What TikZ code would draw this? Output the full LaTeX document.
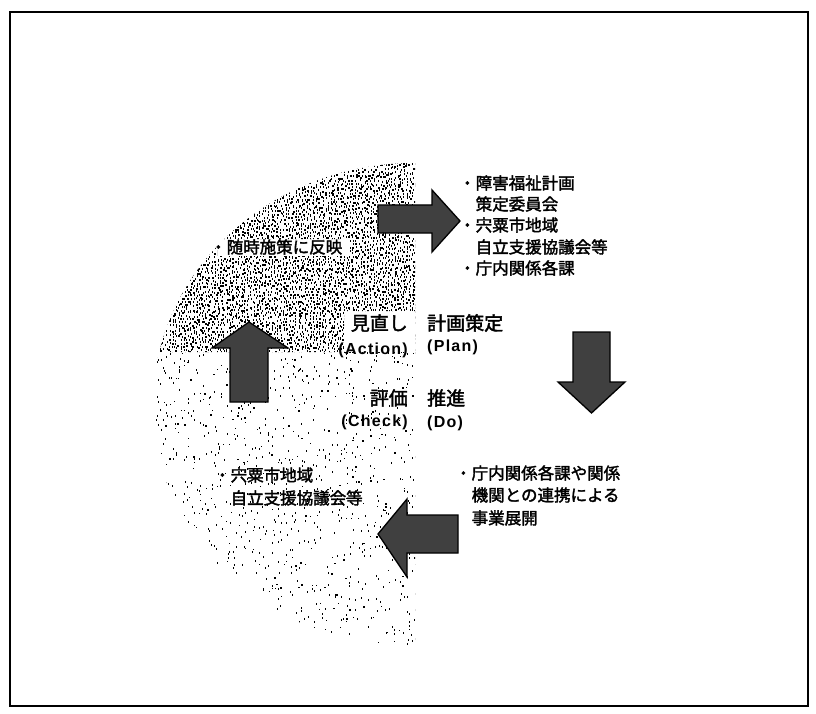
\documentclass[tikz,border=0pt]{standalone}
\usepackage{fontspec}
\setmainfont{Liberation Sans}
\newfontfamily\jp[AutoFakeBold=2]{Noto Sans CJK JP}
\newfontfamily\lat[LetterSpace=8]{Liberation Sans}
\tikzset{
  bigarrow/.style={fill=black!75, draw=black, line width=1.3pt, line join=miter},
  item/.style={anchor=west, inner sep=0pt, font=\jp\bfseries\fontsize{16.5}{20}\selectfont},
  phase/.style={inner sep=0pt, font=\jp\bfseries\fontsize{19}{22}\selectfont},
  phaseen/.style={inner sep=0pt, font=\lat\bfseries\fontsize{16}{20}\selectfont},
  dot/.style={fill=black}
}
\begin{document}
\begin{tikzpicture}[x=1pt,y=-1pt]
\useasboundingbox (0,0) rectangle (816,714);
\fill[white] (0,0) rectangle (816,714);
\draw[line width=1.6pt] (10,12) rectangle (808,706);

\pgfmathsetseed{11}
% dense dotted quadrant (Action)
\begin{scope}
  \clip (415,405) ellipse [x radius=262, y radius=242];
  \begin{scope}[even odd rule]
  \clip (140,150) rectangle (415,352)
        (217,239) rectangle (350,256)
        (344,311) rectangle (415,359);
  \foreach \gx in {0,...,88} {
    \foreach \gy in {0,...,64} {
      \pgfmathtruncatemacro\keep{rnd<0.9}
      \ifnum\keep=1
        \fill[dot] ({150+3*\gx+2.4*rnd},{158+3*\gy+2.4*rnd}) rectangle ++(1.25,2.0);
      \fi
    }
  }
  \end{scope}
\end{scope}
% sparse dotted quadrant (Check)
\begin{scope}
  \clip (415,405) ellipse [x radius=262, y radius=242];
  \clip (140,352) rectangle (415,660);
  \foreach \gx in {0,...,88} {
    \foreach \gy in {0,...,100} {
      \pgfmathtruncatemacro\keep{rnd<0.12}
      \ifnum\keep=1
        \fill[dot] ({150+3*\gx+2.4*rnd},{352+3*\gy+2.4*rnd}) rectangle ++(1.1,1.7);
      \fi
    }
  }
\end{scope}

% arrows
\draw[bigarrow] (378,205) -- (432,205) -- (432,190) -- (460,221) -- (432,252) -- (432,233) -- (378,233) -- cycle;
\draw[bigarrow] (573,332) -- (610,332) -- (610,382) -- (625,382) -- (591.5,413) -- (558,382) -- (573,382) -- cycle;
\draw[bigarrow] (458,515) -- (407,515) -- (407,499) -- (378,534) -- (407,577) -- (407,553) -- (458,553) -- cycle;
\draw[bigarrow] (230,402) -- (230,348) -- (212,348) -- (249,322) -- (288,348) -- (268,348) -- (268,402) -- cycle;

% phase labels
\node[phase, anchor=east] (act) at (408,323) {見直し};
\node[phaseen, anchor=east] (acten) at (408,350) {(Action)};
\node[phase, anchor=west] (plan) at (427,323) {計画策定};
\node[phaseen, anchor=west] (planen) at (427,347) {(Plan)};
\node[phase, anchor=east] (chk) at (408,398) {評価};
\node[phaseen, anchor=east] (chken) at (408,422) {(Check)};
\node[phase, anchor=west] (do) at (427,398) {推進};
\node[phaseen, anchor=west] (doen) at (427,423) {(Do)};

% top right list
\node[item] (tr1) at (459,183) {・障害福祉計画};
\node[item] (tr2) at (459,204) {　策定委員会};
\node[item] (tr3) at (459,225) {・宍粟市地域};
\node[item] (tr4) at (459,247) {　自立支援協議会等};
\node[item] (tr5) at (459,268) {・庁内関係各課};

% left upper
\node[item] (al) at (210,247) {・随時施策に反映};

% bottom right
\node[item] (br1) at (455,473) {・庁内関係各課や関係};
\node[item] (br2) at (455,495) {　機関との連携による};
\node[item] (br3) at (455,518) {　事業展開};

% bottom left
\node[item] (bl1) at (214,475) {・宍粟市地域};
\node[item] (bl2) at (214,498) {　自立支援協議会等};
\end{tikzpicture}
\end{document}
